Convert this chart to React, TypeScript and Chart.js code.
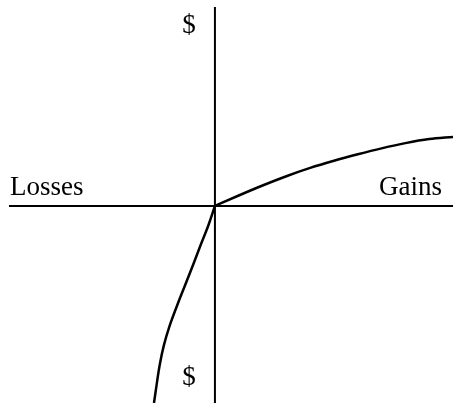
import React, { useEffect, useRef } from "react";
import { Chart, registerables } from "chart.js";

Chart.register(...registerables);

// Value function: gains side (x >= 0) and losses side (x <= 0)
const gainX = [0, 10, 20, 30, 40, 50, 60, 70, 80, 90, 100];
const gainY = [0, 4.4, 8.6, 12.5, 16.0, 19.0, 21.7, 24.2, 26.4, 28.1, 29.0];
const lossX = [0, -2.7, -6.0, -9.2, -12.5, -15.8, -18.9, -21.4, -23.2, -24.5, -25.6];
const lossY = [0, -8.0, -16.4, -24.8, -33.2, -41.6, -50.0, -58.4, -66.8, -75.2, -82.8];

const xMin = -86.5;
const xMax = 100;
const yMin = -82.8;
const yMax = 83.6;

const leftLabel = "Losses";
const rightLabel = "Gains";
const axisUnit = "$";

const FONT = '27px "Liberation Serif", "Times New Roman", serif';

const axesPlugin = {
  id: "valueAxes",
  beforeDatasetsDraw(chart: any) {
    const { ctx, chartArea, scales } = chart;
    const x0 = scales.x.getPixelForValue(0);
    const y0 = scales.y.getPixelForValue(0);
    ctx.save();
    ctx.strokeStyle = "#000";
    ctx.lineWidth = 2;
    ctx.beginPath();
    ctx.moveTo(chartArea.left, y0);
    ctx.lineTo(chartArea.right + 2, y0);
    ctx.moveTo(x0, chartArea.top);
    ctx.lineTo(x0, chartArea.bottom);
    ctx.stroke();

    ctx.fillStyle = "#000";
    ctx.font = FONT;
    ctx.textBaseline = "alphabetic";
    ctx.textAlign = "left";
    ctx.fillText(leftLabel, chartArea.left + 1, y0 - 11);
    ctx.textAlign = "right";
    ctx.fillText(rightLabel, chartArea.right - 11, y0 - 11);
    ctx.textAlign = "center";
    ctx.fillText(axisUnit, x0 - 26, chartArea.top + 26);
    ctx.fillText(axisUnit, x0 - 26, chartArea.bottom - 18);
    ctx.restore();
  },
};

export default function App() {
  const ref = useRef<HTMLCanvasElement | null>(null);

  useEffect(() => {
    if (!ref.current) return;
    const chart = new Chart(ref.current, {
      type: "scatter",
      data: {
        datasets: [
          {
            label: "Gains",
            data: gainX.map((x, i) => ({ x, y: gainY[i] })),
            showLine: true,
            borderColor: "#000",
            borderWidth: 2.5,
            pointRadius: 0,
            cubicInterpolationMode: "monotone",
            fill: false,
          },
          {
            label: "Losses",
            data: lossX.map((x, i) => ({ x, y: lossY[i] })),
            showLine: true,
            borderColor: "#000",
            borderWidth: 2.5,
            pointRadius: 0,
            tension: 0.4,
            fill: false,
          },
        ],
      },
      options: {
        animation: false,
        responsive: false,
        maintainAspectRatio: false,
        layout: { padding: { left: 9, right: 0, top: 7, bottom: 3 } },
        plugins: {
          legend: { display: false },
          tooltip: { enabled: false },
        },
        scales: {
          x: { type: "linear", display: false, min: xMin, max: xMax },
          y: { type: "linear", display: false, min: yMin, max: yMax },
        },
      },
      plugins: [axesPlugin],
    });
    return () => chart.destroy();
  }, []);

  return (
    <div style={{ position: "absolute", left: 0, top: 0, width: 453, height: 406, background: "#fff" }}>
      <canvas ref={ref} width={453} height={406} />
    </div>
  );
}
